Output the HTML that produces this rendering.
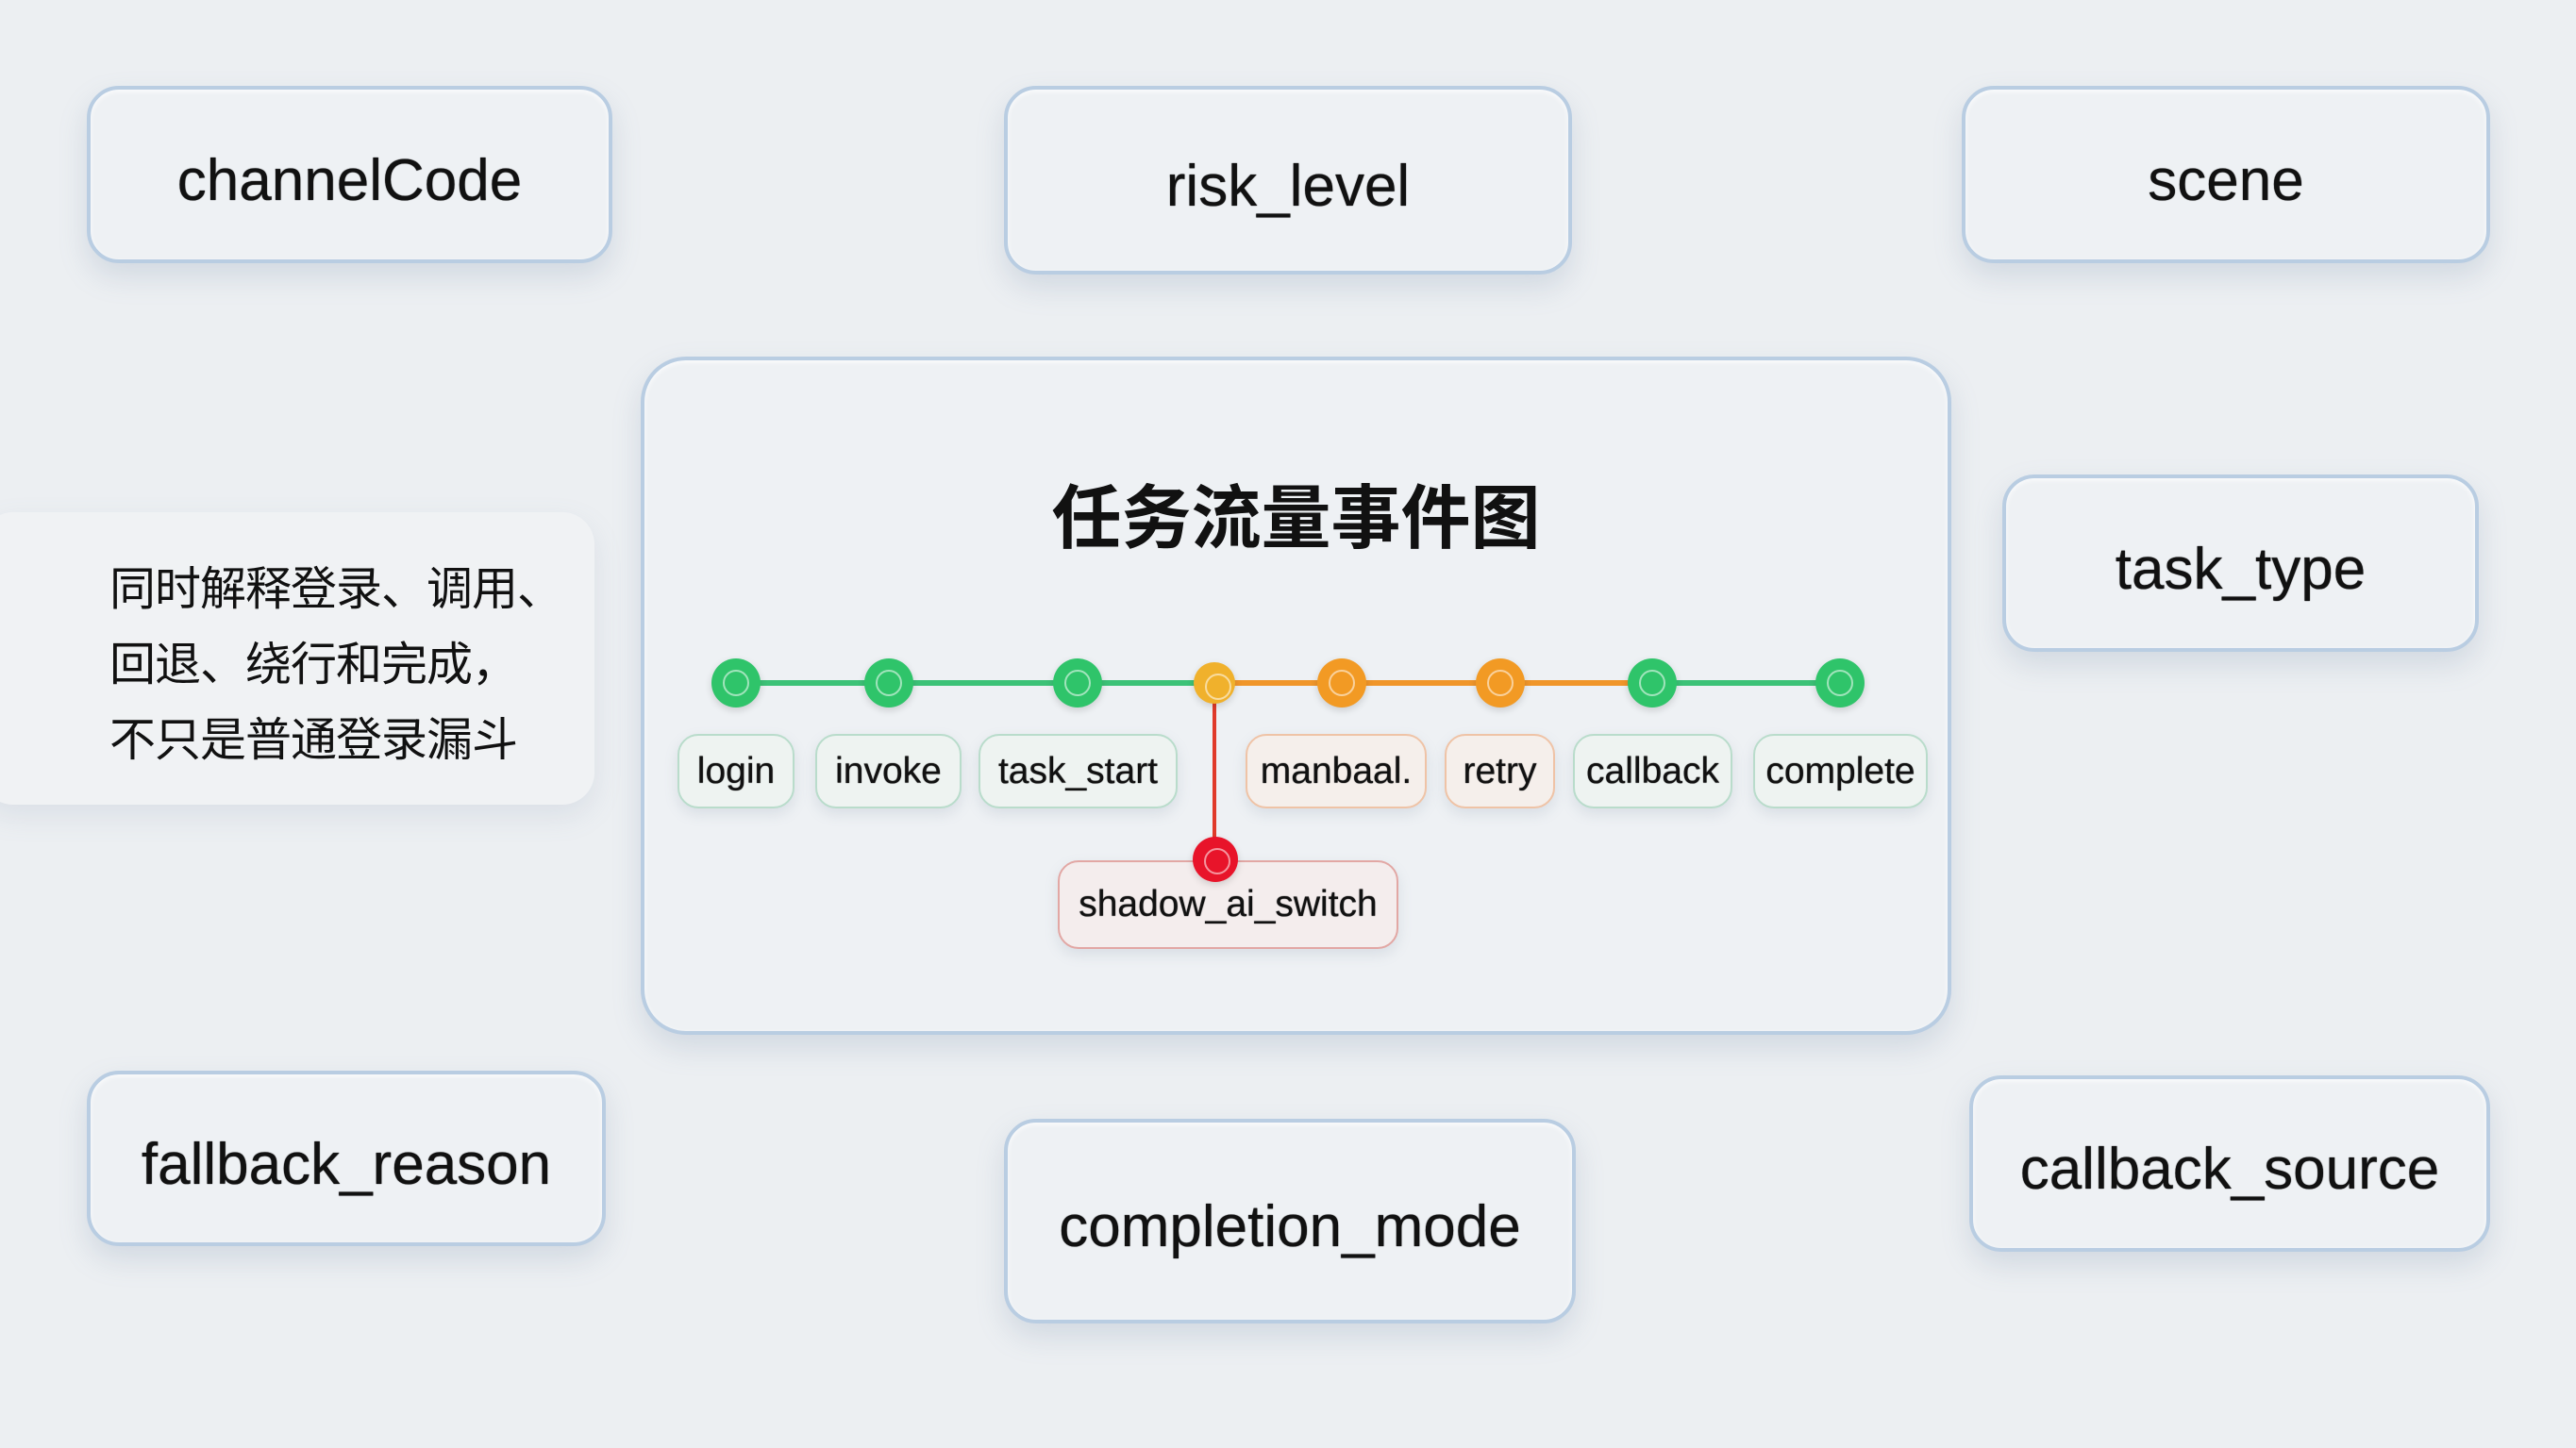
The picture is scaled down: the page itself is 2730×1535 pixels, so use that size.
<!DOCTYPE html>
<html><head><meta charset="utf-8"><style>
body{margin:0;width:2730px;height:1535px;background:#eceff2;position:relative;overflow:hidden;font-family:"Liberation Sans","Noto Sans CJK SC",sans-serif;color:#111}
.b{position:absolute;box-sizing:border-box;border:4px solid #b9cde2;border-radius:34px;background:#eef1f4;box-shadow:0 14px 30px rgba(120,140,170,.22),inset 0 2px 6px rgba(255,255,255,.8);display:flex;align-items:center;justify-content:center;font-size:62px;padding-top:12px;text-shadow:0 0 1px #111}
.l{position:absolute;box-sizing:border-box;height:79px;top:778px;border-radius:22px;border:2px solid #b9dccb;background:#eef3f1;display:flex;align-items:center;justify-content:center;font-size:39px;box-shadow:0 6px 14px rgba(120,140,160,.18);text-shadow:0 0 1px #111}
.o{border-color:#efc3a6;background:#f5efeb}
.n{position:absolute;width:52px;height:52px;margin:-26px 0 0 -26px;border-radius:50%;box-sizing:border-box;box-shadow:0 3px 8px rgba(0,0,0,.15)}
.n::after{content:"";position:absolute;left:12px;top:12px;width:24px;height:24px;border-radius:50%;border:2px solid rgba(255,255,255,.55)}
.g{background:#2fc46a}.y{background:#f0b12c}.or{background:#f29a24}.r{background:#e8142a}
</style></head><body>
<div class="b" style="left:92px;top:91px;width:557px;height:188px">channelCode</div>
<div class="b" style="left:1064px;top:91px;width:602px;height:200px">risk_level</div>
<div class="b" style="left:2079px;top:91px;width:560px;height:188px">scene</div>
<div class="b" style="left:2122px;top:503px;width:505px;height:188px">task_type</div>
<div class="b" style="left:92px;top:1135px;width:550px;height:186px">fallback_reason</div>
<div class="b" style="left:1064px;top:1186px;width:606px;height:217px">completion_mode</div>
<div class="b" style="left:2087px;top:1140px;width:552px;height:187px">callback_source</div>
<div style="position:absolute;left:-20px;top:543px;width:650px;height:310px;border-radius:34px;background:#f0f2f4;box-shadow:0 12px 30px rgba(120,140,170,.15)"></div>
<div style="position:absolute;left:116px;top:585px;font-size:49px;line-height:80px;letter-spacing:-1px">同时解释登录、调用、<br>回退、绕行和完成，<br>不只是普通登录漏斗</div>
<div class="b" style="left:679px;top:378px;width:1389px;height:719px;border-radius:48px"></div>
<div style="position:absolute;left:679px;width:1389px;top:490px;text-align:center;font-size:74px;font-weight:bold">任务流量事件图</div>
<div style="position:absolute;left:780px;top:721px;width:507px;height:6px;background:#3cc277"></div>
<div style="position:absolute;left:1287px;top:721px;width:464px;height:6px;background:#f0962a"></div>
<div style="position:absolute;left:1751px;top:721px;width:199px;height:6px;background:#3cc277"></div>
<div style="position:absolute;left:1285px;top:724px;width:4px;height:187px;background:#e03a2a"></div>
<div class="l" style="left:718px;width:124px">login</div>
<div class="l" style="left:864px;width:155px">invoke</div>
<div class="l" style="left:1037px;width:211px">task_start</div>
<div class="l o" style="left:1320px;width:192px">manbaal.</div>
<div class="l o" style="left:1531px;width:117px">retry</div>
<div class="l" style="left:1667px;width:169px">callback</div>
<div class="l" style="left:1858px;width:185px">complete</div>
<div class="l" style="left:1121px;top:912px;width:361px;height:94px;border-color:#e2a7a4;background:#f4eded">shadow_ai_switch</div>
<div class="n g" style="left:780px;top:724px"></div>
<div class="n g" style="left:942px;top:724px"></div>
<div class="n g" style="left:1142px;top:724px"></div>
<div class="n y" style="left:1287px;top:724px;width:44px;height:44px;margin:-22px 0 0 -22px"></div>
<div class="n or" style="left:1422px;top:724px"></div>
<div class="n or" style="left:1590px;top:724px"></div>
<div class="n g" style="left:1751px;top:724px"></div>
<div class="n g" style="left:1950px;top:724px"></div>
<div class="n r" style="left:1288px;top:911px;width:48px;height:48px;margin:-24px 0 0 -24px"></div>
</body></html>
